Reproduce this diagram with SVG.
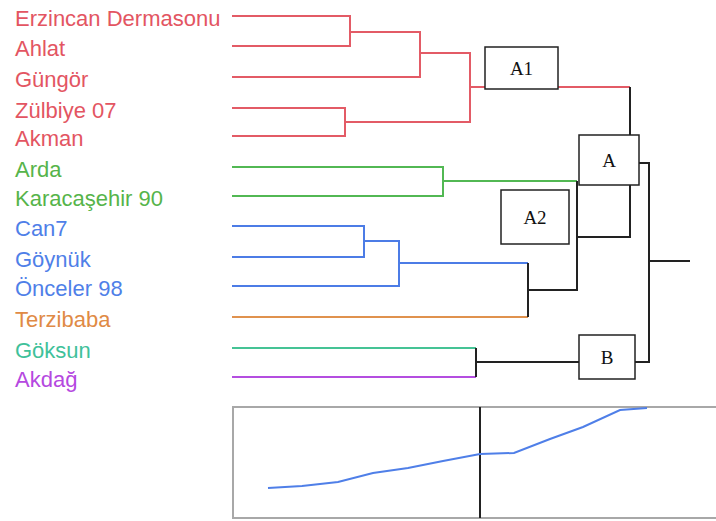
<svg xmlns="http://www.w3.org/2000/svg" width="716" height="521" viewBox="0 0 716 521">
<style>
.lbl{font-family:"Liberation Sans",Arial,sans-serif;font-size:22px}
.box{fill:#fff;stroke:#222;stroke-width:1.5}
.bt{font-family:"Liberation Serif","Times New Roman",serif;font-size:19px;fill:#111;text-anchor:middle}
.c{fill:none;stroke-width:2;stroke-linejoin:miter}
.r{stroke:#e35b66}.g{stroke:#52b853}.b{stroke:#4c7ce6}.o{stroke:#e0924e}.t{stroke:#45c395}.p{stroke:#b44ee0}.k{stroke:#222}
</style>
<rect width="716" height="521" fill="#fff"/>
<g id="labels">
<text class="lbl" x="15" y="26" fill="#e35562">Erzincan Dermasonu</text>
<text class="lbl" x="15" y="56" fill="#e35562">Ahlat</text>
<text class="lbl" x="15" y="87" fill="#e35562">Güngör</text>
<text class="lbl" x="15" y="118" fill="#e35562">Zülbiye 07</text>
<text class="lbl" x="15" y="146" fill="#e35562">Akman</text>
<text class="lbl" x="15" y="177" fill="#56b44a">Arda</text>
<text class="lbl" x="15" y="206" fill="#56b44a">Karacaşehir 90</text>
<text class="lbl" x="15" y="236" fill="#4f7fe8">Can7</text>
<text class="lbl" x="15" y="267" fill="#4f7fe8">Göynük</text>
<text class="lbl" x="15" y="296" fill="#4f7fe8">Önceler 98</text>
<text class="lbl" x="15" y="327" fill="#e08a45">Terzibaba</text>
<text class="lbl" x="15" y="358" fill="#3fc19a">Göksun</text>
<text class="lbl" x="15" y="387" fill="#b548e0">Akdağ</text>
</g>
<g id="connectors">
<polyline class="c r" points="232,16 350,16 350,46 232,46"/>
<polyline class="c r" points="350,32 420,32 420,77 232,77"/>
<polyline class="c r" points="232,108 345,108 345,136 232,136"/>
<polyline class="c r" points="420,53 470,53 470,122 345,122"/>
<polyline class="c r" points="470,87 485,87"/>
<polyline class="c r" points="558,87 630,87"/>
<polyline class="c k" points="630,87 630,135"/>
<polyline class="c g" points="232,167 443,167 443,196 232,196"/>
<polyline class="c g" points="443,181 577,181"/>
<polyline class="c b" points="232,226 364,226 364,257 232,257"/>
<polyline class="c b" points="364,241 399,241 399,286 232,286"/>
<polyline class="c b" points="399,263 528,263"/>
<polyline class="c o" points="232,317 528,317"/>
<polyline class="c k" points="528,263 528,317"/>
<polyline class="c k" points="528,290 577,290 577,181"/>
<polyline class="c k" points="630,185 630,237 577,237"/>
<polyline class="c t" points="232,348 476,348"/>
<polyline class="c p" points="232,377 476,377"/>
<polyline class="c k" points="476,348 476,377"/>
<polyline class="c k" points="476,362 579,362"/>
<polyline class="c k" points="639,163 649,163 649,362 635,362"/>
<polyline class="c k" points="649,261 690,261"/>
</g>
<g id="A1"><rect class="box" x="485" y="47" width="73" height="42"/><text class="bt" x="521.5" y="75">A1</text></g>
<g id="A"><rect class="box" x="579" y="135" width="60" height="50"/><text class="bt" x="609" y="167">A</text></g>
<g id="A2"><rect class="box" x="501" y="190" width="68" height="54"/><text class="bt" x="535" y="224">A2</text></g>
<g id="B"><rect class="box" x="579" y="335" width="56" height="44"/><text class="bt" x="607" y="364">B</text></g>
<g id="panel">
<rect x="233" y="407" width="490" height="111" fill="none" stroke="#a8a8a8" stroke-width="2"/>
<line x1="480" y1="407" x2="480" y2="518" stroke="#222" stroke-width="2"/>
<polyline fill="none" stroke="#4f7fe8" stroke-width="2" points="268,488 302,486 338,482 373,473 408,468 443,461 480,454 514,453 550,439 583,427 620,410 647,408"/>
</g>
</svg>
